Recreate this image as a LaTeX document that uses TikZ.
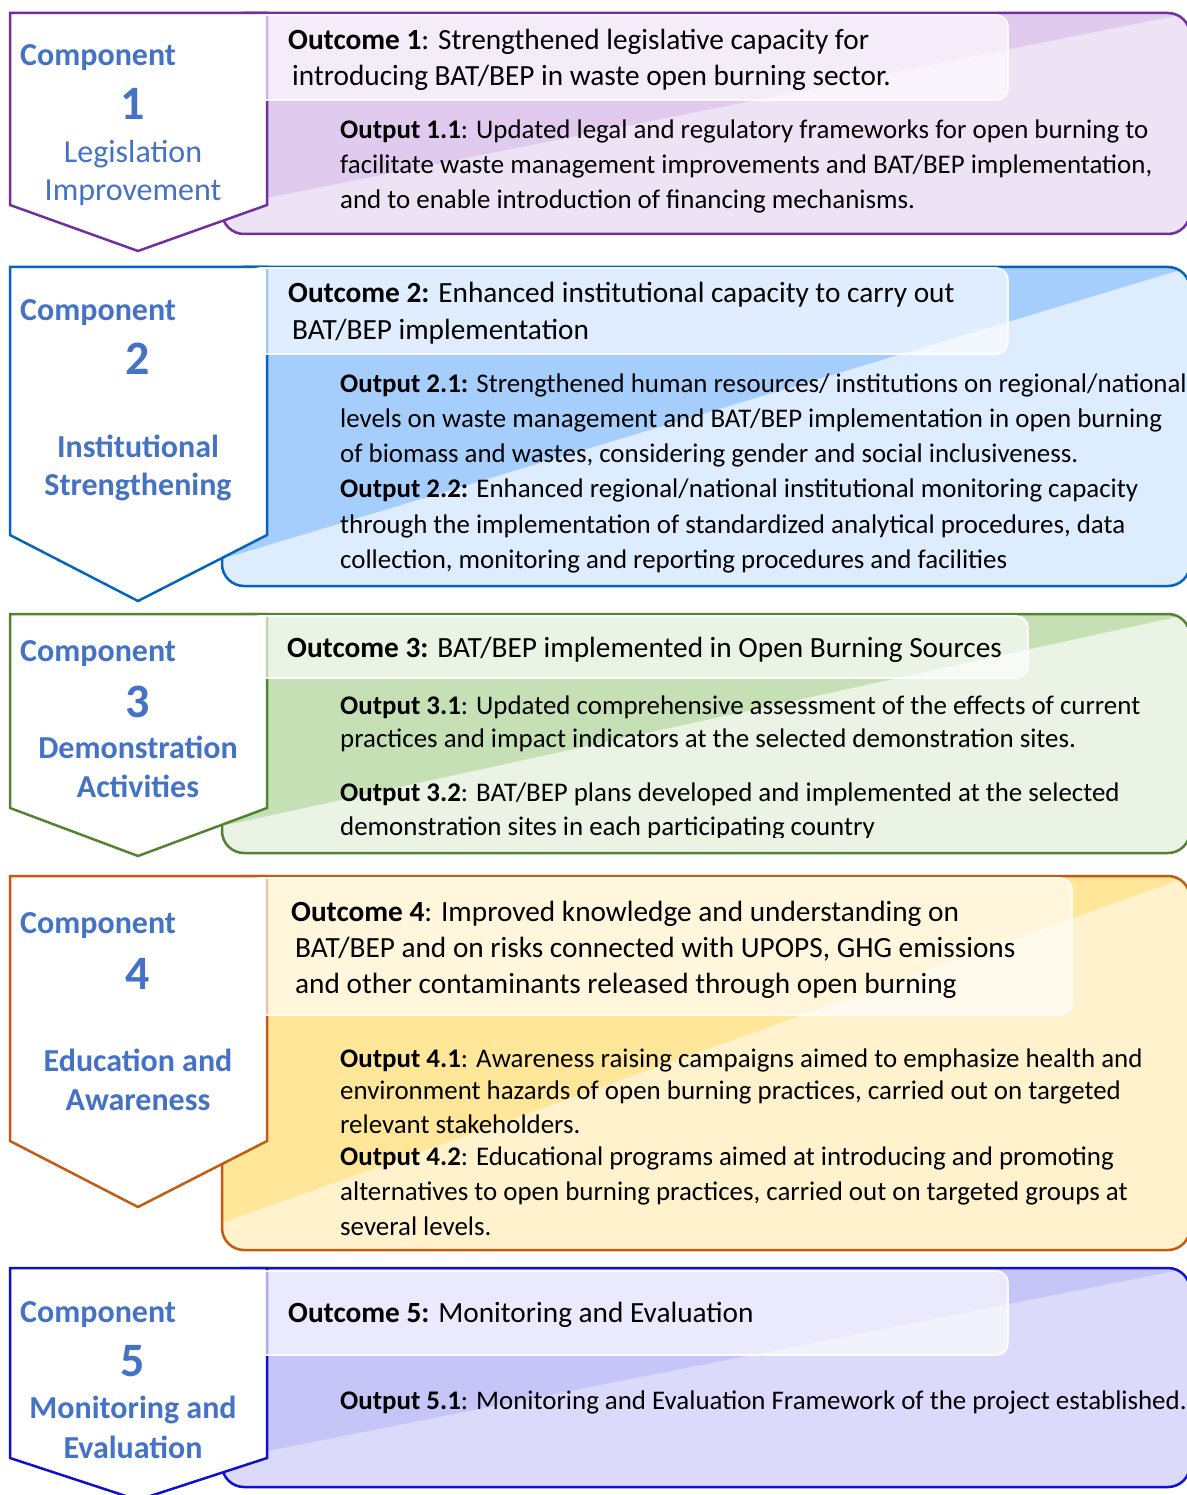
\documentclass[tikz,border=0pt]{standalone}
\usepackage{fontspec}
\setmainfont{Carlito}

\definecolor{compblue}{RGB}{68,114,196}
% frame, darker and lighter tones of each component band
\definecolor{bdA}{RGB}{112,48,160}  \definecolor{dkA}{RGB}{224,203,238} \definecolor{ltA}{RGB}{238,226,245}
\definecolor{bdB}{RGB}{5,99,193}    \definecolor{dkB}{RGB}{165,206,253} \definecolor{ltB}{RGB}{221,237,255}
\definecolor{bdC}{RGB}{84,130,53}   \definecolor{dkC}{RGB}{197,224,180} \definecolor{ltC}{RGB}{235,243,229}
\definecolor{bdD}{RGB}{197,90,17}   \definecolor{dkD}{RGB}{255,230,153} \definecolor{ltD}{RGB}{255,242,204}
\definecolor{bdE}{RGB}{15,15,205}   \definecolor{dkE}{RGB}{197,197,247} \definecolor{ltE}{RGB}{220,218,250}

% #1 top, #2 bottom, #3 chevron side end, #4 chevron tip,
% #5 outcome box right, #6 outcome box top, #7 outcome box bottom, #8 band letter
\newcommand\componentband[8]{%
  \begin{scope}
    \path[clip, rounded corners=22pt] (222,#1) rectangle (1190,#2);
    \fill[lt#8] (222,#1) rectangle (1190,#2);
    \fill[dk#8] (222,#2-27) -- (1190,#1) -- (222,#1) -- cycle;
  \end{scope}
  \draw[bd#8, line width=2.5pt, rounded corners=22pt] (222,#1) rectangle (1190,#2);
  \draw[bd#8, line width=2.5pt, fill=white, line join=miter]
    (10,#1) -- (267,#1) -- (267,#3) -- (138,#4) -- (10,#3) -- cycle;
  \draw[white, line width=1.8pt, draw opacity=0.9, fill=white, fill opacity=0.65,
    rounded corners=12pt] (248,#6) rectangle (#5,#7);
}

\begin{document}
\begin{tikzpicture}[x=1pt, y=-1pt,
  body/.style={anchor=base west, inner sep=0pt, font=\fontsize{29.3}{35.7}\selectfont, text=black},
  outtext/.style={anchor=base west, inner sep=0pt, font=\fontsize{26.9}{35}\selectfont, text=black},
  complabel/.style={anchor=base west, inner sep=0pt, font=\fontsize{32}{38}\selectfont\bfseries, text=compblue},
  compnum/.style={anchor=base, inner sep=0pt, font=\fontsize{48}{56}\selectfont\bfseries, text=compblue},
  comptitle/.style={anchor=base, inner sep=0pt, font=\fontsize{32}{38}\selectfont\bfseries, text=compblue},
  comptitlelight/.style={anchor=base, inner sep=0pt, font=\fontsize{32}{38}\selectfont, text=compblue}]
\useasboundingbox (0,0) rectangle (1186,1495);

% ---- bands ----
\componentband{13}{234}{205}{251}{1008}{15}{100}{A}
\componentband{267}{586}{535}{601}{1008}{268}{354}{B}
\componentband{614}{853}{808}{856}{1028}{616}{678}{C}
\componentband{876}{1250}{1141}{1207}{1072}{878}{1015}{D}
\componentband{1268}{1487}{1458}{1500}{1008}{1271}{1355}{E}

% ---- component 1 ----
\node[complabel] (c1) at (20,66) {Component};
\node[compnum] (n1) at (133,120) {1};
\node[comptitlelight] (t1a) at (133,163) {Legislation};
\node[comptitlelight] (t1b) at (133,201) {Improvement};
\node[body] (oc1a) at (288,50) {\textbf{Outcome 1}: Strengthened legislative capacity for};
\node[body] (oc1b) at (292,86) {introducing BAT/BEP in waste open burning sector.};
\node[outtext] (op1a) at (340,139) {\textbf{Output 1.1}: Updated legal and regulatory frameworks for open burning to};
\node[outtext] (op1b) at (340,174) {facilitate waste management improvements and BAT/BEP implementation,};
\node[outtext] (op1c) at (340,209) {and to enable introduction of financing mechanisms.};

% ---- component 2 ----
\node[complabel] (c2) at (20,320) {Component};
\node[compnum] (n2) at (138,374) {2};
\node[comptitle] (t2a) at (138,457) {Institutional};
\node[comptitle] (t2b) at (138,495) {Strengthening};
\node[body] (oc2a) at (288,303) {\textbf{Outcome 2:} Enhanced institutional capacity to carry out};
\node[body] (oc2b) at (292,339) {BAT/BEP implementation};
\node[outtext] (op2a) at (340,392) {\textbf{Output 2.1:} Strengthened human resources/ institutions on regional/national};
\node[outtext] (op2b) at (340,427) {levels on waste management and BAT/BEP implementation in open burning};
\node[outtext] (op2c) at (340,462) {of biomass and wastes, considering gender and social inclusiveness.};
\node[outtext] (op2d) at (340,497) {\textbf{Output 2.2:} Enhanced regional/national institutional monitoring capacity};
\node[outtext] (op2e) at (340,533) {through the implementation of standardized analytical procedures, data};
\node[outtext] (op2f) at (340,568) {collection, monitoring and reporting procedures and facilities};

% ---- component 3 ----
\node[complabel] (c3) at (20,661) {Component};
\node[compnum] (n3) at (138,717) {3};
\node[comptitle] (t3a) at (138,758) {Demonstration};
\node[comptitle] (t3b) at (138,797) {Activities};
\node[body] (oc3a) at (287,657) {\textbf{Outcome 3:} BAT/BEP implemented in Open Burning Sources};
\node[outtext] (op3a) at (340,714) {\textbf{Output 3.1}: Updated comprehensive assessment of the effects of current};
\node[outtext] (op3b) at (340,747) {practices and impact indicators at the selected demonstration sites.};
\node[outtext] (op3c) at (340,801) {\textbf{Output 3.2}: BAT/BEP plans developed and implemented at the selected};
\begin{scope}
  \clip (300,780) rectangle (1180,837);
  \node[outtext] (op3d) at (340,835) {demonstration sites in each participating country};
\end{scope}

% ---- component 4 ----
\node[complabel] (c4) at (20,933) {Component};
\node[compnum] (n4) at (138,989) {4};
\node[comptitle] (t4a) at (138,1071) {Education and};
\node[comptitle] (t4b) at (138,1110) {Awareness};
\node[body] (oc4a) at (291,921) {\textbf{Outcome 4}: Improved knowledge and understanding on};
\node[body] (oc4b) at (295,957) {BAT/BEP and on risks connected with UPOPS, GHG emissions};
\node[body] (oc4c) at (295,993) {and other contaminants released through open burning};
\node[outtext] (op4a) at (340,1067) {\textbf{Output 4.1}: Awareness raising campaigns aimed to emphasize health and};
\node[outtext] (op4b) at (340,1099) {environment hazards of open burning practices, carried out on targeted};
\node[outtext] (op4c) at (340,1133) {relevant stakeholders.};
\node[outtext] (op4d) at (340,1165) {\textbf{Output 4.2}: Educational programs aimed at introducing and promoting};
\node[outtext] (op4e) at (340,1200) {alternatives to open burning practices, carried out on targeted groups at};
\node[outtext] (op4f) at (340,1235) {several levels.};

% ---- component 5 ----
\node[complabel] (c5) at (20,1322) {Component};
\node[compnum] (n5) at (133,1376) {5};
\node[comptitle] (t5a) at (133,1418) {Monitoring and};
\node[comptitle] (t5b) at (133,1458) {Evaluation};
\node[body] (oc5a) at (288,1322) {\textbf{Outcome 5:} Monitoring and Evaluation};
\node[outtext] (op5a) at (340,1409) {\textbf{Output 5.1}: Monitoring and Evaluation Framework of the project established.};
\end{tikzpicture}
\end{document}
